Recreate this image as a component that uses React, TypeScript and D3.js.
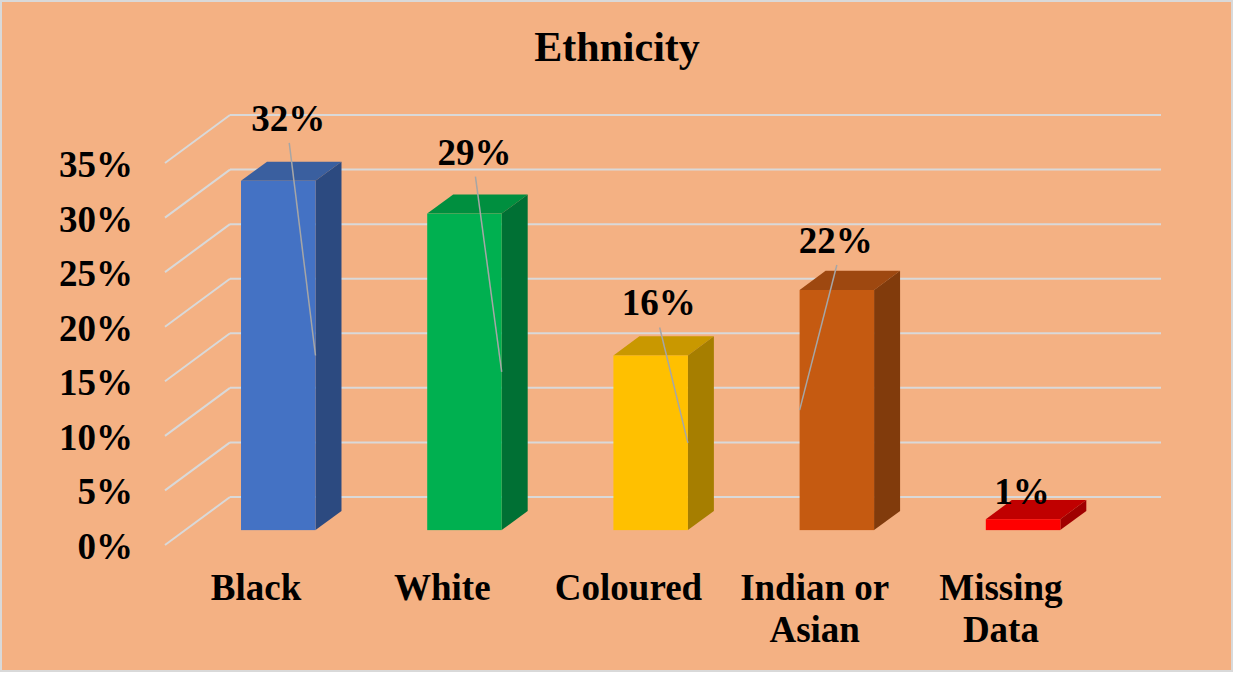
import React from "react";
import * as d3 from "d3";

const categories = ["Black", "White", "Coloured", "Indian or Asian", "Missing Data"];
const categoryLines = [["Black"], ["White"], ["Coloured"], ["Indian or", "Asian"], ["Missing", "Data"]];
const values = [32, 29, 16, 22, 1];
const yTicks = [0, 5, 10, 15, 20, 25, 30, 35];
const title = "Ethnicity";

// styling / layout (not data)
const frontColors = ["#4472C4", "#00B050", "#FFC000", "#C55A11", "#FF0000"];
const topColors = ["#3A5F9F", "#008F3F", "#C99800", "#9E4810", "#C00000"];
const sideColors = ["#2C4A80", "#007034", "#A67E00", "#813B0C", "#A00000"];
const labelOffsets: [number, number][] = [[10, -50], [10, -49], [8, -40], [-1, -37], [-1, -15]];
const leaderSide = ["right", "right", "right", "left", null];

const W = 1233, H = 673;
const DX = -65, DY = 48; // depth vector back->front
const tFront = 0.69, tBack = 0.29;
const FONT = "'Liberation Serif', 'Times New Roman', serif";

export default function App() {
  const x = d3.scaleBand<string>().domain(categories).range([230, 1161]).paddingInner(0.6).paddingOuter(0.3);
  const y = d3.scaleLinear().domain([0, 35]).range([497, 115]);
  const proj = (px: number, v: number, t: number): [number, number] => [px + t * DX, y(v) + t * DY];
  const pts = (arr: [number, number][]) => arr.map((p) => p.join(",")).join(" ");

  return (
    <div style={{ position: "fixed", left: 0, top: 0, width: W, height: H }}>
      <svg width={W} height={H} style={{ display: "block" }}>
        <rect x={1} y={1} width={W - 2} height={H - 3} fill="#F4B183" stroke="#D9D9D9" strokeWidth={2} />
        <text x={617} y={61} textAnchor="middle" fontFamily={FONT} fontWeight="bold" fontSize={42} fill="#000">
          {title}
        </text>
        {/* gridlines */}
        {yTicks.map((t) => (
          <g key={"g" + t}>
            <line x1={230} x2={1161} y1={y(t)} y2={y(t)} stroke="#D9D9D9" strokeWidth={2} />
            <line x1={230 + DX} y1={y(t) + DY} x2={230} y2={y(t)} stroke="#D9D9D9" strokeWidth={2} />
            <text x={133} y={y(t) + DY + 14} textAnchor="end" fontFamily={FONT} fontWeight="bold" fontSize={37} fill="#000">
              {t + "%"}
            </text>
          </g>
        ))}
        {/* bars */}
        {categories.map((c, i) => {
          const x0 = x(c)!;
          const x1 = x0 + x.bandwidth();
          const v = values[i];
          const fb = proj(x0, 0, tFront);
          const ft = proj(x1, v, tFront);
          return (
            <g key={c}>
              <polygon points={pts([proj(x0, v, tFront), proj(x1, v, tFront), proj(x1, v, tBack), proj(x0, v, tBack)])} fill={topColors[i]} />
              <polygon points={pts([proj(x1, 0, tFront), proj(x1, v, tFront), proj(x1, v, tBack), proj(x1, 0, tBack)])} fill={sideColors[i]} />
              <rect x={fb[0]} y={ft[1]} width={ft[0] - fb[0]} height={fb[1] - ft[1]} fill={frontColors[i]} />
            </g>
          );
        })}
        {/* data labels + leader lines */}
        {categories.map((c, i) => {
          const x0 = x(c)!;
          const cx = x0 + x.bandwidth() / 2 + tFront * DX;
          const v = values[i];
          const topY = y(v) + tFront * DY;
          const lx = cx + labelOffsets[i][0];
          const ly = topY + labelOffsets[i][1];
          const side = leaderSide[i];
          let leader = null;
          if (side) {
            const ex = side === "right" ? x0 + x.bandwidth() + tFront * DX : x0 + tFront * DX;
            const ey = (topY + y(0) + tFront * DY) / 2;
            leader = <line x1={lx + 1} y1={ly + 12} x2={ex} y2={ey} stroke="#A6A6A6" strokeWidth={1.5} />;
          }
          return (
            <g key={"l" + c}>
              {leader}
              <text x={lx} y={ly} textAnchor="middle" fontFamily={FONT} fontWeight="bold" fontSize={37} fill="#000">
                {v + "%"}
              </text>
            </g>
          );
        })}
        {/* category labels */}
        {categories.map((c, i) => {
          const cx = x(c)! + x.bandwidth() / 2 + DX - 2;
          return (
            <text key={"c" + c} x={cx} y={600} textAnchor="middle" fontFamily={FONT} fontWeight="bold" fontSize={37} fill="#000">
              {categoryLines[i].map((ln, j) => (
                <tspan key={j} x={cx} dy={j === 0 ? 0 : 42}>
                  {ln}
                </tspan>
              ))}
            </text>
          );
        })}
      </svg>
    </div>
  );
}
